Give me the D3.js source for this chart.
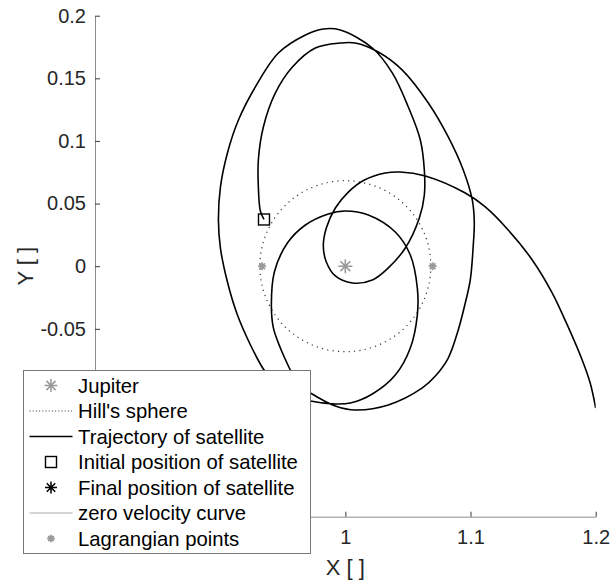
<!DOCTYPE html>
<html>
<head>
<meta charset="utf-8">
<script src="https://cdn.jsdelivr.net/npm/d3@7"></script>
<style>
  html, body { margin: 0; padding: 0; background: #fff; }
  svg { display: block; font-family: "Liberation Sans", Arial, Helvetica, sans-serif; }
</style>
</head>
<body>
<svg id="chart" width="611" height="582"></svg>
<script>
// Satellite path in the rotating frame (Sun-Jupiter system), in units of the Sun-Jupiter distance
const trajX = [
  0.9350, 0.9321, 0.9305, 0.9305, 0.9345, 0.9441, 0.9577, 0.9760, 0.9960, 1.0080,
  1.0263, 1.0455, 1.0663, 1.0822, 1.0942, 1.1014, 1.1030, 1.1022, 1.0998, 1.0958,
  1.0902, 1.0822, 1.0719, 1.0615, 1.0343, 1.0080, 0.9920, 0.9721, 0.9641, 0.9585,
  0.9545, 0.9481, 0.9425, 0.9409, 0.9433, 0.9537, 0.9681, 0.9864, 1.0000, 1.0184,
  1.0399, 1.0519, 1.0575, 1.0575, 1.0519, 1.0399, 1.0216, 1.0040, 0.9920, 0.9721,
  0.9561, 0.9433, 0.9345, 0.9242, 0.9138, 0.9058, 0.9002, 0.8986, 0.9002, 0.9058,
  0.9146, 0.9281, 0.9465, 0.9681, 0.9824, 0.9960, 1.0216, 1.0375, 1.0503, 1.0599,
  1.0631, 1.0631, 1.0591, 1.0479, 1.0343, 1.0216, 1.0056, 0.9920, 0.9848, 0.9824,
  0.9848, 0.9920, 1.0024, 1.0152, 1.0319, 1.0439, 1.0639, 1.0958, 1.1118, 1.1301,
  1.1493, 1.1653, 1.1780, 1.1892, 1.1956, 1.2000
];
const trajY = [
  0.0373, 0.0441, 0.0632, 0.0848, 0.1111, 0.1383, 0.1590, 0.1742, 0.1782, 0.1782,
  0.1710, 0.1566, 0.1303, 0.1032, 0.0768, 0.0529, 0.0353, 0.0169, -0.0110, -0.0294,
  -0.0509, -0.0733, -0.0877, -0.0972, -0.1108, -0.1148, -0.1116, -0.1012, -0.0956, -0.0877,
  -0.0797, -0.0653, -0.0493, -0.0310, -0.0046, 0.0185, 0.0329, 0.0417, 0.0441, 0.0409,
  0.0273, 0.0089, -0.0174, -0.0390, -0.0653, -0.0869, -0.1020, -0.1092, -0.1100, -0.1076,
  -0.1028, -0.0933, -0.0821, -0.0629, -0.0390, -0.0126, 0.0145, 0.0369, 0.0632, 0.0904,
  0.1167, 0.1431, 0.1702, 0.1846, 0.1894, 0.1886, 0.1742, 0.1543, 0.1271, 0.1008,
  0.0768, 0.0568, 0.0385, 0.0145, -0.0014, -0.0110, -0.0134, -0.0078, 0.0034, 0.0161,
  0.0305, 0.0465, 0.0592, 0.0688, 0.0744, 0.0752, 0.0720, 0.0584, 0.0473, 0.0289,
  0.0050, -0.0214, -0.0485, -0.0749, -0.0933, -0.1132
];

const jupiter = [1.0, 0.0];
const hillRadius = 0.0683;
const lagrangeX = [0.9335, 1.0697];
const lagrangeY = [0.0, 0.0];
const initialPos = [0.9350, 0.0373];

// ticks left of / below the legend box are covered by it, so only the visible ones are labelled
const xTicks = [1.0, 1.1, 1.2];
const xTickLabels = ["1", "1.1", "1.2"];
const yTicks = [-0.05, 0, 0.05, 0.1, 0.15, 0.2];
const yTickLabels = ["-0.05", "0", "0.05", "0.1", "0.15", "0.2"];

const legendLabels = [
  "Jupiter",
  "Hill's sphere",
  "Trajectory of satellite",
  "Initial position of satellite",
  "Final position of satellite",
  "zero velocity curve",
  "Lagrangian points"
];

// ---- layout ----
const svg = d3.select("#chart");
const plot = { left: 95, right: 595.7, top: 15.7, bottom: 516.7 };

const x = d3.scaleLinear().domain([0.8, 1.2]).range([plot.left, plot.right]);
const y = d3.scaleLinear().domain([-0.2, 0.2]).range([plot.bottom, plot.top]);

const axisColor = "#8c8c8c";
const textColor = "#262626";
const grayMarker = "#9a9a9a";

svg.append("defs").append("clipPath").attr("id", "plot-clip")
  .append("rect")
  .attr("x", plot.left).attr("y", plot.top)
  .attr("width", plot.right - plot.left).attr("height", plot.bottom - plot.top);

// asterisk marker path (plus + cross), radius r
function asterisk(r) {
  const d = r * Math.SQRT1_2;
  return `M${-r},0L${r},0M0,${-r}L0,${r}M${-d},${-d}L${d},${d}M${-d},${d}L${d},${-d}`;
}

// ---- axes ----
const xAxis = d3.axisBottom(x)
  .tickValues(xTicks)
  .tickFormat((d, i) => xTickLabels[i])
  .tickSizeInner(-5).tickSizeOuter(0).tickPadding(13);
const yAxis = d3.axisLeft(y)
  .tickValues(yTicks)
  .tickFormat((d, i) => yTickLabels[i])
  .tickSizeInner(-5).tickSizeOuter(0).tickPadding(9);

const gx = svg.append("g").attr("transform", `translate(0,${plot.bottom})`).call(xAxis);
const gy = svg.append("g").attr("transform", `translate(${plot.left},0)`).call(yAxis);

[gx, gy].forEach(g => {
  g.select(".domain").attr("stroke", axisColor).attr("stroke-width", 1);
  g.selectAll(".tick line").attr("stroke", "#3a3a3a").attr("stroke-width", 1);
  g.selectAll(".tick text")
    .attr("fill", textColor)
    .attr("font-size", 20)
    .attr("font-family", "Liberation Sans, Arial, sans-serif");
});

svg.append("text")
  .attr("x", x(1.0)).attr("y", 575)
  .attr("text-anchor", "middle")
  .attr("font-size", 22).attr("fill", textColor)
  .text("X [ ]");

svg.append("text")
  .attr("transform", `translate(33,${y(0)}) rotate(-90)`)
  .attr("text-anchor", "middle")
  .attr("font-size", 22).attr("fill", textColor)
  .text("Y [ ]");

// ---- plot content ----
const content = svg.append("g").attr("clip-path", "url(#plot-clip)");

// Hill's sphere around Jupiter
content.append("circle")
  .attr("cx", x(jupiter[0])).attr("cy", y(jupiter[1]))
  .attr("r", x(jupiter[0] + hillRadius) - x(jupiter[0]))
  .attr("fill", "none")
  .attr("stroke", "#333")
  .attr("stroke-width", 1.2)
  .attr("stroke-dasharray", "1.2 4.2");

// satellite trajectory
const trajectory = trajX.map((v, i) => [v, trajY[i]]);
const line = d3.line()
  .x(d => x(d[0])).y(d => y(d[1]))
  .curve(d3.curveCatmullRom.alpha(0.5));

content.append("path")
  .datum(trajectory)
  .attr("d", line)
  .attr("fill", "none")
  .attr("stroke", "#000")
  .attr("stroke-width", 1.6)
  .attr("stroke-linejoin", "round");

// Jupiter
content.append("path")
  .attr("transform", `translate(${x(jupiter[0])},${y(jupiter[1])})`)
  .attr("d", asterisk(7))
  .attr("stroke", grayMarker).attr("stroke-width", 1.6).attr("fill", "none");

// Lagrangian points L1, L2
content.selectAll(".lagrange")
  .data(lagrangeX.map((v, i) => [v, lagrangeY[i]]))
  .join("path")
  .attr("class", "lagrange")
  .attr("transform", d => `translate(${x(d[0])},${y(d[1])})`)
  .attr("d", asterisk(4))
  .attr("stroke", grayMarker).attr("stroke-width", 1.8).attr("fill", "none");

// initial position
const sq = 11;
content.append("rect")
  .attr("x", x(initialPos[0]) - sq / 2).attr("y", y(initialPos[1]) - sq / 2)
  .attr("width", sq).attr("height", sq)
  .attr("fill", "none").attr("stroke", "#000").attr("stroke-width", 1.4);

// ---- legend ----
const lg = svg.append("g").attr("transform", "translate(23.5,370.5)");
lg.append("rect")
  .attr("width", 287).attr("height", 183)
  .attr("fill", "#fff").attr("stroke", "#777").attr("stroke-width", 1);

const rowY = i => 15 + i * 25.5;
const iconX = 27.5;
const lineX0 = 6, lineX1 = 49;

legendLabels.forEach((label, i) => {
  const cy = rowY(i);
  const row = lg.append("g").attr("transform", `translate(0,${cy})`);
  if (i === 0) {
    row.append("path").attr("transform", `translate(${iconX},0)`)
      .attr("d", asterisk(6.5)).attr("stroke", grayMarker).attr("stroke-width", 1.5).attr("fill", "none");
  } else if (i === 1) {
    row.append("line").attr("x1", lineX0).attr("x2", lineX1)
      .attr("stroke", "#333").attr("stroke-width", 1).attr("stroke-dasharray", "1 2.2");
  } else if (i === 2) {
    row.append("line").attr("x1", lineX0).attr("x2", lineX1)
      .attr("stroke", "#000").attr("stroke-width", 1.6);
  } else if (i === 3) {
    row.append("rect").attr("x", iconX - 5.5).attr("y", -5.5).attr("width", 11).attr("height", 11)
      .attr("fill", "none").attr("stroke", "#000").attr("stroke-width", 1.4);
  } else if (i === 4) {
    row.append("path").attr("transform", `translate(${iconX},0)`)
      .attr("d", asterisk(6)).attr("stroke", "#000").attr("stroke-width", 1.5).attr("fill", "none");
  } else if (i === 5) {
    row.append("line").attr("x1", lineX0).attr("x2", lineX1)
      .attr("stroke", "#aaa").attr("stroke-width", 1);
  } else if (i === 6) {
    row.append("path").attr("transform", `translate(${iconX},0)`)
      .attr("d", asterisk(3.8)).attr("stroke", grayMarker).attr("stroke-width", 1.8).attr("fill", "none");
  }
  row.append("text")
    .attr("x", 54.5).attr("y", 0).attr("dy", "0.35em")
    .attr("font-size", 20.3).attr("fill", "#000")
    .text(label);
});
</script>
</body>
</html>
